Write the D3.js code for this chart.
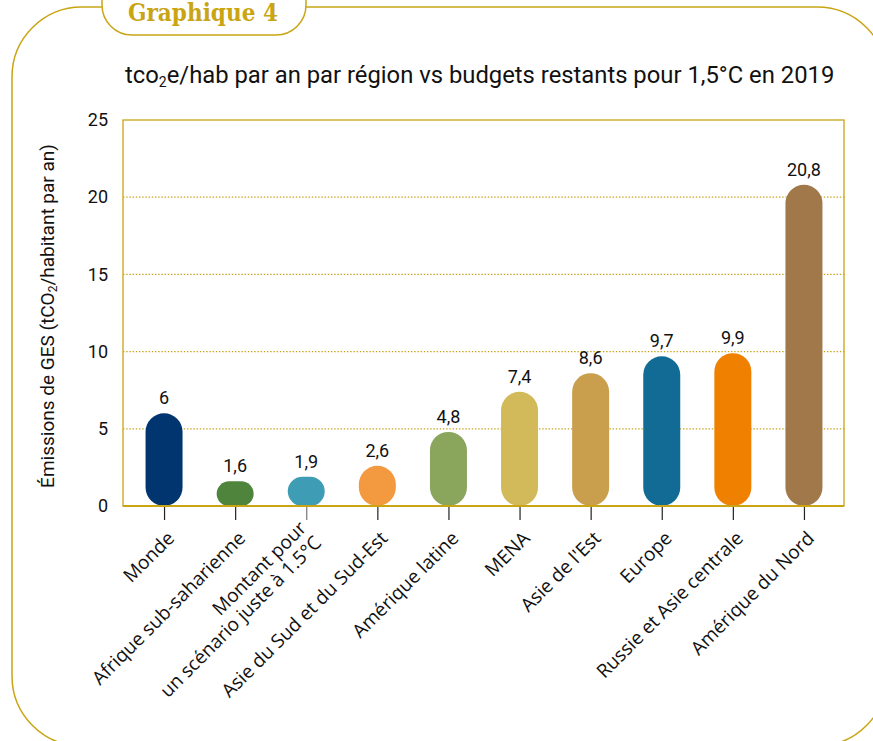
<!DOCTYPE html>
<html>
<head>
<meta charset="utf-8">
<script src="https://cdn.jsdelivr.net/npm/d3@7"></script>
<style>
  body { margin: 0; background: #fff; }
  svg { display: block; }
</style>
</head>
<body>
<script>
// data
const regions = [
  "Monde", "Afrique sub-saharienne", "Montant pour\nun scénario juste à 1.5°C",
  "Asie du Sud et du Sud-Est", "Amérique latine", "MENA", "Asie de l'Est",
  "Europe", "Russie et Asie centrale", "Amérique du Nord"
];
const emissions = [6, 1.6, 1.9, 2.6, 4.8, 7.4, 8.6, 9.7, 9.9, 20.8];
const valueLabels = ["6", "1,6", "1,9", "2,6", "4,8", "7,4", "8,6", "9,7", "9,9", "20,8"];
const barColors = ["#003570", "#4f843c", "#3e9db5", "#f39a40", "#8aa55c",
  "#d2ba5a", "#c99e4d", "#126b94", "#ef8000", "#a0784a"];
const yTicks = [0, 5, 10, 15, 20, 25];

const width = 873, height = 741;
const gold = "#c9a514";
const plot = { left: 123, right: 844, top: 120, bottom: 506 };

const svg = d3.select("body").append("svg")
  .attr("width", width).attr("height", height)
  .attr("viewBox", [0, 0, width, height]);

// outer rounded frame (runs off the page on the right and bottom)
const fr = { l: 12, t: 7, r: 887, b: 746, rad: 70 };
svg.append("rect")
  .attr("x", fr.l).attr("y", fr.t)
  .attr("width", fr.r - fr.l).attr("height", fr.b - fr.t)
  .attr("rx", fr.rad)
  .attr("fill", "none").attr("stroke", gold).attr("stroke-width", 1.5);

// "Graphique 4" tab
svg.append("rect")
  .attr("x", 102).attr("y", -30).attr("width", 204).attr("height", 65)
  .attr("rx", 30)
  .attr("fill", "#fff").attr("stroke", gold).attr("stroke-width", 1.5);
svg.append("text")
  .attr("x", 203).attr("y", 21)
  .attr("text-anchor", "middle")
  .attr("font-family", "'DejaVu Serif', serif")
  .attr("font-weight", "bold")
  .attr("font-size", 24)
  .attr("textLength", 150).attr("lengthAdjust", "spacingAndGlyphs")
  .attr("fill", gold)
  .text("Graphique 4");

// title
const title = svg.append("text")
  .attr("x", 125).attr("y", 83)
  .attr("font-family", "Roboto, sans-serif")
  .attr("font-size", 23.8)
  .attr("fill", "#111");
title.append("tspan").text("tco");
title.append("tspan").attr("font-size", 14).attr("dy", 4).text("2");
title.append("tspan").attr("dy", -4).text("e/hab par an par région vs budgets restants pour 1,5°C en 2019");

const x = d3.scalePoint().domain(regions).range([128.5, 839.5]).padding(0.5);
const y = d3.scaleLinear().domain([0, 25]).range([plot.bottom, plot.top]);
const barW = 37;

// dotted gridlines
svg.append("g")
  .selectAll("line")
  .data(yTicks.filter(d => d > 0 && d < 25))
  .join("line")
  .attr("x1", plot.left).attr("x2", plot.right + 2)
  .attr("y1", d => y(d)).attr("y2", d => y(d))
  .attr("stroke", gold).attr("stroke-width", 1.3)
  .attr("stroke-dasharray", "1.4,1.8");

// plot frame
svg.append("rect")
  .attr("x", plot.left).attr("y", plot.top)
  .attr("width", plot.right - plot.left).attr("height", plot.bottom - plot.top)
  .attr("fill", "none").attr("stroke", gold).attr("stroke-width", 1.3);

// y axis
const yAxis = d3.axisLeft(y).tickValues(yTicks).tickSize(0).tickPadding(15);
const gY = svg.append("g")
  .attr("transform", `translate(${plot.left},0)`)
  .call(yAxis);
gY.select(".domain").remove();
gY.selectAll("text")
  .attr("font-family", "Roboto, sans-serif")
  .attr("font-size", 18)
  .attr("fill", "#111");

// y axis title
const yTitle = svg.append("text")
  .attr("transform", "translate(54,316) rotate(-90)")
  .attr("text-anchor", "middle")
  .attr("font-family", "Roboto, sans-serif")
  .attr("font-size", 19)
  .attr("fill", "#111");
yTitle.append("tspan").text("Émissions de GES (tCO");
yTitle.append("tspan").attr("font-size", 12).attr("dy", 3).text("2");
yTitle.append("tspan").attr("dy", -3).text("/habitant par an)");

// bars as capsules
const bars = regions.map((r, i) => ({ region: r, value: emissions[i], label: valueLabels[i], color: barColors[i] }));
svg.append("g")
  .selectAll("rect")
  .data(bars)
  .join("rect")
  .attr("x", d => x(d.region) - barW / 2)
  .attr("y", d => y(d.value))
  .attr("width", barW)
  .attr("height", d => y(0) - y(d.value))
  .attr("rx", d => Math.min(barW / 2, (y(0) - y(d.value)) / 2))
  .attr("fill", d => d.color);

// value labels
svg.append("g")
  .selectAll("text")
  .data(bars)
  .join("text")
  .attr("x", d => x(d.region))
  .attr("y", d => y(d.value) - 9)
  .attr("text-anchor", "middle")
  .attr("font-family", "Roboto, sans-serif")
  .attr("font-size", 18)
  .attr("fill", "#111")
  .text(d => d.label);

// baseline
svg.append("line")
  .attr("x1", plot.left).attr("x2", plot.right)
  .attr("y1", plot.bottom).attr("y2", plot.bottom)
  .attr("stroke", gold).attr("stroke-width", 2);

// x ticks and rotated labels
const xAxis = d3.axisBottom(x).tickSize(13).tickFormat("");
const gX = svg.append("g")
  .attr("transform", `translate(0,${plot.bottom + 1})`)
  .call(xAxis);
gX.select(".domain").remove();
gX.selectAll(".tick line").attr("stroke", (d, i) => i === 2 ? "#777" : "#222").attr("stroke-width", 1.2);

const xl = svg.append("g")
  .selectAll("text")
  .data(regions)
  .join("text")
  .attr("transform", d => `translate(${x(d) + 2},${plot.bottom + 24}) rotate(-45)`)
  .attr("text-anchor", "end")
  .attr("font-family", "'Open Sans', sans-serif")
  .attr("font-size", 19)
  .attr("fill", "#111");
xl.selectAll("tspan")
  .data(d => d.split("\n").map((t, i, a) => ({ t, i, n: a.length })))
  .join("tspan")
  .attr("x", 0)
  .attr("dy", d => d.i === 0 ? (d.n > 1 ? "-0.05em" : "0.7em") : "1.1em")
  .text(d => d.t);
</script>
</body>
</html>
